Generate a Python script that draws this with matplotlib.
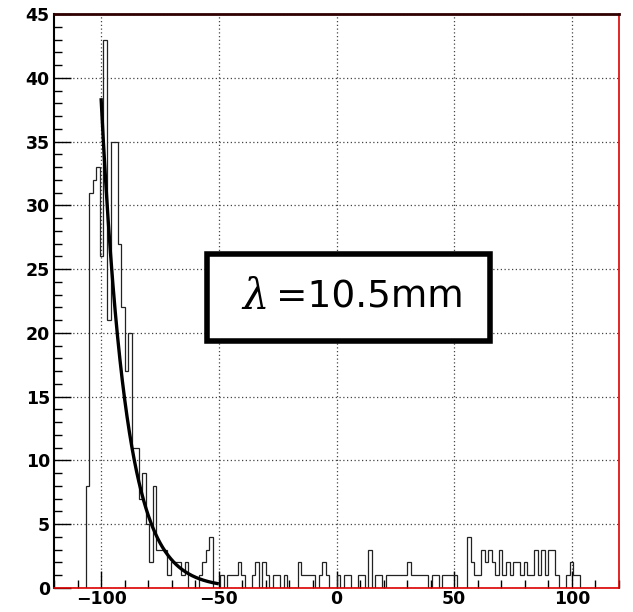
import numpy as np
import matplotlib
matplotlib.use("Agg")
import matplotlib.pyplot as plt
from matplotlib.ticker import MultipleLocator

# ---- data ----
x_min, x_max = -120.0, 120.0
n_bins = 160
counts = [0] * n_bins
filled = {
    9: 8, 10: 31, 11: 32, 12: 33, 13: 26, 14: 43, 15: 21, 16: 35, 17: 35, 18: 27,
    19: 22, 20: 17, 21: 20, 22: 11, 23: 11, 24: 7, 25: 9, 26: 5, 27: 2, 28: 8,
    29: 3, 30: 3, 31: 3, 32: 1, 33: 2, 34: 2, 35: 2, 36: 1, 37: 2,
    41: 1, 42: 2, 43: 3, 44: 4, 47: 1, 49: 1, 50: 1, 51: 1, 52: 2, 53: 1,
    56: 1, 57: 2, 59: 2, 60: 1, 62: 1, 63: 1, 65: 1, 69: 2, 70: 1, 71: 1, 72: 1,
    73: 1, 75: 1, 76: 2, 77: 1, 80: 1, 82: 1, 83: 1, 86: 1, 87: 1, 89: 3,
    91: 1, 92: 1, 94: 1, 95: 1, 96: 1, 97: 1, 98: 1, 99: 1, 100: 2, 101: 1,
    102: 1, 103: 1, 104: 1, 105: 1, 107: 1, 108: 1, 110: 1, 111: 1, 112: 1,
    113: 1, 117: 4, 118: 2, 119: 1, 120: 1, 121: 3, 122: 2, 123: 3, 124: 2,
    125: 1, 126: 3, 127: 1, 128: 2, 129: 1, 130: 2, 131: 2, 132: 1, 133: 2,
    134: 1, 135: 1, 136: 3, 137: 1, 138: 3, 139: 1, 140: 3, 141: 3, 142: 1,
    145: 1, 146: 2, 147: 1, 148: 1,
}
for k, v in filled.items():
    counts[k] = v

# exponential fit shown on the plot
fit_amp = 38.4        # value at fit start
fit_start = -100.0
fit_end = -50.0
fit_lambda = 10.5     # mm

label_symbol = "λ"
label_text = "=10.5mm"

# ---- figure ----
fig = plt.figure(figsize=(6.33, 6.12), dpi=100)
ax = fig.add_axes([54 / 633, 24 / 612, (619 - 54) / 633, (588 - 14) / 612])

edges = np.linspace(x_min, x_max, n_bins + 1)
ax.stairs(counts, edges, color="#222222", linewidth=0.9, baseline=0, fill=False)

xf = np.linspace(fit_start, fit_end, 300)
yf = fit_amp * np.exp(-(xf - fit_start) / fit_lambda)
ax.plot(xf, yf, color="black", linewidth=2.4, solid_capstyle="butt")

ax.set_xlim(x_min, x_max)
ax.set_ylim(0, 45)

ax.xaxis.set_major_locator(MultipleLocator(50))
ax.xaxis.set_minor_locator(MultipleLocator(10))
ax.yaxis.set_major_locator(MultipleLocator(5))
ax.yaxis.set_minor_locator(MultipleLocator(1))

ax.tick_params(which="major", direction="in", length=12, width=1, color="black",
               top=False, right=False)
ax.tick_params(which="minor", direction="in", length=6, width=1, color="black",
               top=False, right=False)
ax.tick_params(axis="y", which="major", pad=3)
ax.tick_params(axis="x", which="major", pad=1.5)

ax.grid(True, which="major", linestyle=(0, (1, 2)), color="#444444", linewidth=0.9)
ax.set_axisbelow(True)

for lab in ax.get_xticklabels() + ax.get_yticklabels():
    lab.set_fontfamily("DejaVu Sans")
    lab.set_fontweight("bold")
    lab.set_fontsize(12.5)

for side in ["top", "right", "bottom"]:
    ax.spines[side].set_color("#dd0000")
    ax.spines[side].set_linewidth(1.2)
ax.spines["top"].set_color("#300000")
ax.spines["top"].set_linewidth(2)
ax.spines["left"].set_color("black")
ax.spines["left"].set_linewidth(1.5)

# label box
box_x0, box_x1 = -54.8, 65.0
box_y0, box_y1 = 19.4, 26.2
ax.add_patch(plt.Rectangle((box_x0, box_y0), box_x1 - box_x0, box_y1 - box_y0,
                           facecolor="white", edgecolor="black", linewidth=4, zorder=5))
ax.text(-34.5, 22.8, label_symbol, fontsize=30, family="DejaVu Serif", style="italic",
        ha="center", va="center", zorder=6)
ax.text(-25.5, 22.8, label_text, fontsize=27, family="DejaVu Sans",
        ha="left", va="center", zorder=6)

fig.savefig("out.png", dpi=100)
